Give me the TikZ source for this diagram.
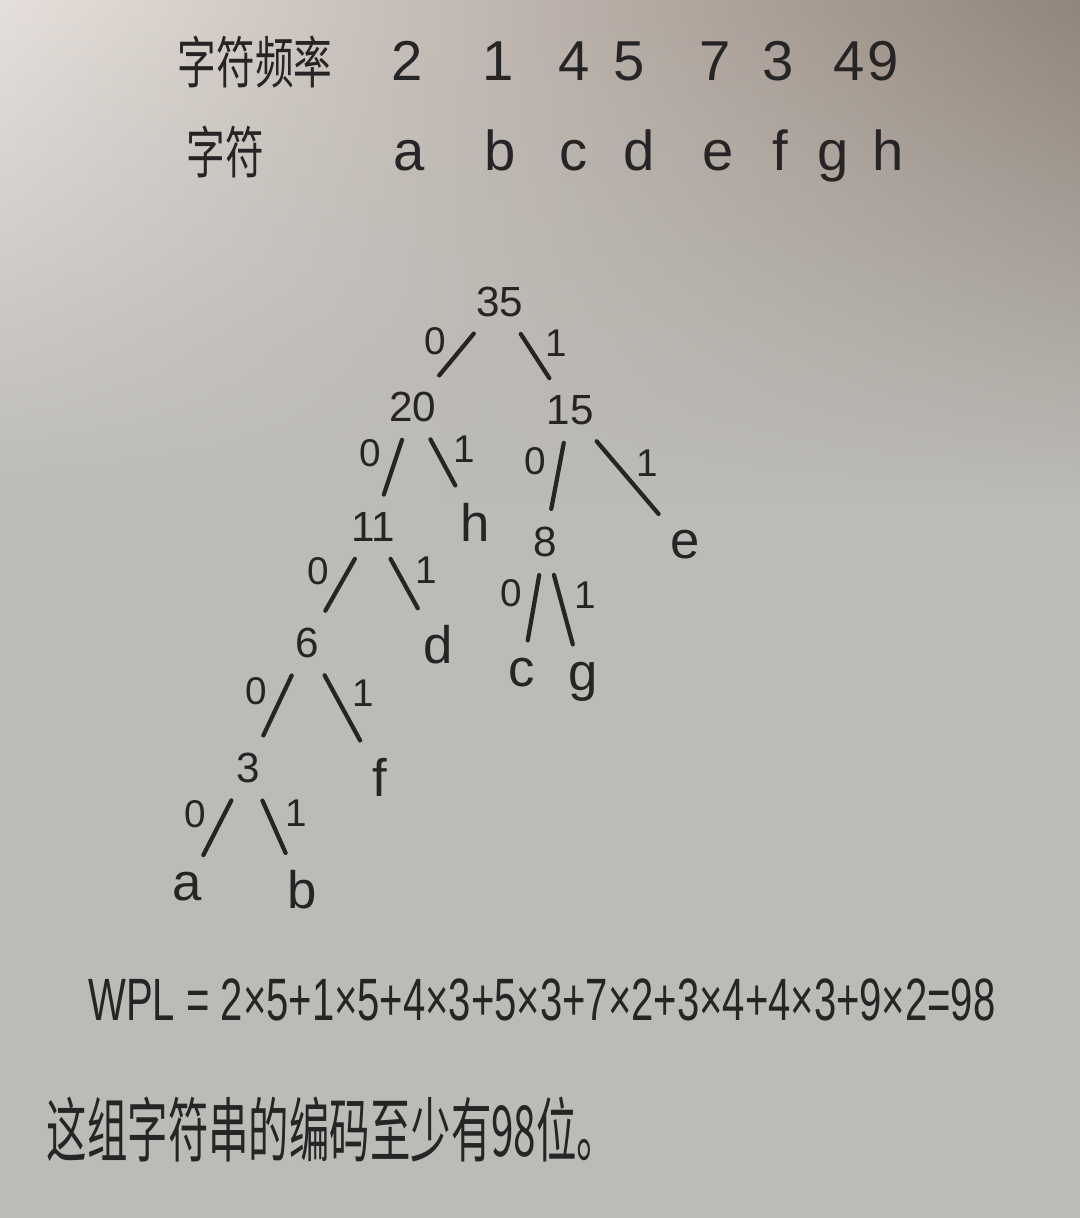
\documentclass[tikz,border=0pt]{standalone}
\usepackage{fontspec}
\setmainfont{Liberation Sans}
\newfontfamily\cjk{Noto Sans CJK SC}
\usetikzlibrary{fadings}

\definecolor{ink}{RGB}{38,36,36}
\definecolor{paper}{RGB}{188,187,183}
\definecolor{paperlight}{RGB}{230,224,220}
\definecolor{paperdark}{RGB}{146,133,123}

\tikzfading[name=topband, top color=transparent!0, bottom color=transparent!100]

\tikzset{
	head/.style={text=ink, font=\fontsize{16}{18}\selectfont, inner sep=1pt},
	cjkhead/.style={text=ink, font=\cjk\fontsize{11}{13}\selectfont, yscale=1.45, inner sep=1pt},
	num/.style={text=ink, font=\fontsize{12}{14}\selectfont, inner sep=3pt},
	leaf/.style={text=ink, font=\fontsize{15}{17}\selectfont, inner sep=3pt},
	bit/.style={text=ink, font=\fontsize{11}{13}\selectfont, inner sep=3pt, pos=.45, yshift=3pt},
	edge/.style={draw=ink, line width=1.2pt, line cap=round, shorten <=2pt, shorten >=2pt},
}

\begin{document}
\begin{tikzpicture}
	% paper
	\fill[paper] (0,0) rectangle (10.8,-12.18);
	\shade[left color=paperlight, right color=paperdark, path fading=topband] (0,0) rectangle (10.8,-5);
	
	% table
	\node[cjkhead] (freqlabel) at (2.55,-0.62) {字符频率};
	\node[cjkhead] (charlabel) at (2.25,-1.52) {字符};
	\foreach \v/\x [count=\i] in {2/4.07, 1/4.98, 4/5.74, 5/6.29, 7/7.15, 3/7.78, 4/8.49, 9/8.83}
		\node[head, anchor=base] (w\i) at (\x,-0.80) {\v};
	\foreach \v/\x in {a/4.09, b/5.00, c/5.74, d/6.39, e/7.18, f/7.80, g/8.33, h/8.88}
		\node[head, anchor=base] (ch\v) at (\x,-1.70) {\v};
	
	% tree
	\node[num] (n35) at (5.00,-3.02) {35};
	\node[num] (n20) at (4.13,-4.07) {20};
	\node[num] (n15) at (5.70,-4.10) {15};
	\node[num] (n11) at (3.73,-5.27) {11};
	\node[leaf] (lh) at (4.75,-5.22) {h};
	\node[num] (n8) at (5.45,-5.42) {8};
	\node[leaf] (le) at (6.85,-5.45) {e};
	\node[num] (n6) at (3.07,-6.43) {6};
	\node[leaf] (ld) at (4.38,-6.45) {d};
	\node[leaf] (lc) at (5.22,-6.73) {c};
	\node[leaf] (lg) at (5.83,-6.82) {g};
	\node[num] (n3) at (2.48,-7.68) {3};
	\node[leaf] (lf) at (3.80,-7.77) {f};
	\node[leaf] (la) at (1.87,-8.87) {a};
	\node[leaf] (lb) at (3.02,-8.90) {b};
	
	\foreach \p/\q in {n35/n20, n20/n11, n15/n8, n11/n6, n8/lc, n6/n3, n3/la}
		\draw[edge] (\p) -- node[bit, left] {0} (\q);
	\foreach \p/\q in {n35/n15, n20/lh, n15/le, n11/ld, n8/lg, n6/lf, n3/lb}
		\draw[edge] (\p) -- node[bit, right] {1} (\q);
	
	% result
	\node[head, font=\fontsize{17}{19}\selectfont, xscale=0.67] (wpl) at (5.42,-10.00) {WPL = 2×5+1×5+4×3+5×3+7×2+3×4+4×3+9×2=98};
	\node[cjkhead, font=\cjk\fontsize{11.5}{13}\selectfont, yscale=1.2] (concl) at (3.32,-11.30) {这组字符串的编码至少有98位。};
\end{tikzpicture}
\end{document}
